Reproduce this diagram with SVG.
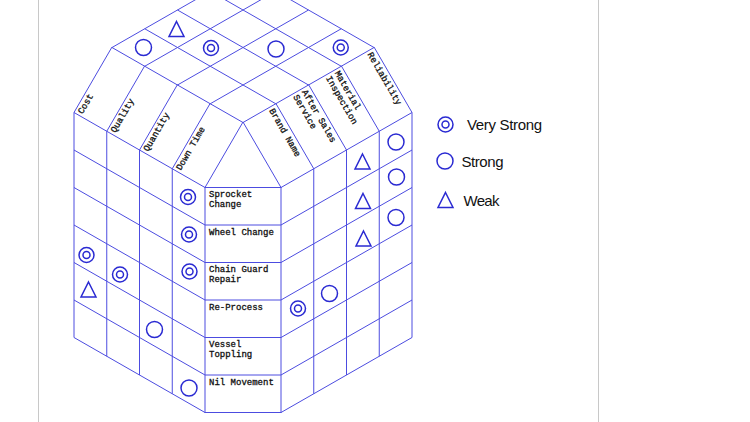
<svg xmlns="http://www.w3.org/2000/svg" xmlns:xlink="http://www.w3.org/1999/xlink" width="750" height="422" viewBox="0 0 750 422">
<style>
.g{fill:none;stroke:#4c4ce0;stroke-width:1}
.s{fill:none;stroke:#2a2ad2;stroke-width:1.5}
.m{font-family:"Liberation Mono","Courier New",monospace;font-size:9px;fill:#111;stroke:#111;stroke-width:0.3}
.l{font-family:"Liberation Sans",Arial,sans-serif;font-size:15px;fill:#111}
.frame{stroke:#c8c8c8;stroke-width:1}
</style>
<defs>
<g id="vs" class="s"><circle r="7.5"/><circle r="3.5"/></g>
<circle id="st" class="s" r="8"/>
<path id="wk" class="s" d="M0,-7.5 L7.5,7.5 L-7.5,7.5 Z"/>
</defs>
<rect x="0" y="0" width="750" height="422" fill="#fff"/>
<line class="frame" x1="38.5" y1="0" x2="38.5" y2="422"/>
<line class="frame" x1="598.5" y1="0" x2="598.5" y2="422"/>

<g id="connectors">
<g id="roof" class="g">
<line x1="243" y1="122.5" x2="374" y2="47.5"/>
<line x1="210.25" y1="103.75" x2="341.25" y2="28.75"/>
<line x1="177.5" y1="85" x2="308.5" y2="10"/>
<line x1="144.75" y1="66.25" x2="275.75" y2="-8.75"/>
<line x1="112" y1="47.5" x2="243" y2="-27.5"/>
<line x1="243" y1="122.5" x2="112" y2="47.5"/>
<line x1="275.75" y1="103.75" x2="144.75" y2="28.75"/>
<line x1="308.5" y1="85" x2="177.5" y2="10"/>
<line x1="341.25" y1="66.25" x2="210.25" y2="-8.75"/>
<line x1="374" y1="47.5" x2="243" y2="-27.5"/>
</g>
<g id="headers" class="g">
<line x1="74" y1="112.5" x2="112" y2="47"/>
<line x1="106.75" y1="131.25" x2="144.75" y2="65.75"/>
<line x1="139.5" y1="150" x2="177.5" y2="84.5"/>
<line x1="172.25" y1="168.75" x2="210.25" y2="103.25"/>
<line x1="205" y1="187.5" x2="243" y2="122"/>
<line x1="281" y1="187.5" x2="243" y2="122"/>
<line x1="313.75" y1="168.75" x2="275.75" y2="103.25"/>
<line x1="346.5" y1="150" x2="308.5" y2="84.5"/>
<line x1="379.25" y1="131.25" x2="341.25" y2="65.75"/>
<line x1="412" y1="112.5" x2="374" y2="47"/>
</g>
<g id="leftface" class="g">
<line x1="74" y1="112.5" x2="205" y2="187.5"/>
<line x1="74" y1="150" x2="205" y2="225"/>
<line x1="74" y1="187.5" x2="205" y2="262.5"/>
<line x1="74" y1="225" x2="205" y2="300"/>
<line x1="74" y1="262.5" x2="205" y2="337.5"/>
<line x1="74" y1="300" x2="205" y2="375"/>
<line x1="74" y1="337.5" x2="205" y2="412.5"/>
<line x1="74" y1="112.5" x2="74" y2="337.5"/>
<line x1="106.75" y1="131.25" x2="106.75" y2="356.25"/>
<line x1="139.5" y1="150" x2="139.5" y2="375"/>
<line x1="172.25" y1="168.75" x2="172.25" y2="393.75"/>
</g>
<g id="centerbox" class="g">
<rect x="205" y="187.5" width="76" height="225"/>
<line x1="205" y1="225" x2="281" y2="225"/>
<line x1="205" y1="262.5" x2="281" y2="262.5"/>
<line x1="205" y1="300" x2="281" y2="300"/>
<line x1="205" y1="337.5" x2="281" y2="337.5"/>
<line x1="205" y1="375" x2="281" y2="375"/>
</g>
<g id="rightface" class="g">
<line x1="281" y1="187.5" x2="412" y2="112.5"/>
<line x1="281" y1="225" x2="412" y2="150"/>
<line x1="281" y1="262.5" x2="412" y2="187.5"/>
<line x1="281" y1="300" x2="412" y2="225"/>
<line x1="281" y1="337.5" x2="412" y2="262.5"/>
<line x1="281" y1="375" x2="412" y2="300"/>
<line x1="281" y1="412.5" x2="412" y2="337.5"/>
<line x1="313.75" y1="168.75" x2="313.75" y2="393.75"/>
<line x1="346.5" y1="150" x2="346.5" y2="375"/>
<line x1="379.25" y1="131.25" x2="379.25" y2="356.25"/>
<line x1="412" y1="112.5" x2="412" y2="337.5"/>
</g>
</g>

<g id="h-cost" transform="translate(74,112.5) rotate(-60)"><text class="m" x="2.5" y="8.5">Cost</text></g>
<g id="h-quality" transform="translate(106.75,131.25) rotate(-60)"><text class="m" x="2.5" y="8.5">Quality</text></g>
<g id="h-quantity" transform="translate(139.5,150) rotate(-60)"><text class="m" x="2.5" y="8.5">Quantity</text></g>
<g id="h-downtime" transform="translate(172.25,168.75) rotate(-60)"><text class="m" x="2.5" y="8.5">Down Time</text></g>
<g id="h-brand" transform="translate(275.75,103.25) rotate(60)"><text class="m" x="3" y="9.5">Brand Name</text></g>
<g id="h-aftersales" transform="translate(308.5,84.5) rotate(60)"><text class="m" x="3" y="9.5">After Sales</text><text class="m" x="3" y="19.5">Service</text></g>
<g id="h-material" transform="translate(341.25,65.75) rotate(60)"><text class="m" x="3" y="9.5">Material</text><text class="m" x="3" y="19.5">Inspection</text></g>
<g id="h-reliability" transform="translate(374,47) rotate(60)"><text class="m" x="3" y="9.5">Reliability</text></g>

<g id="r-sprocket"><text class="m" x="209" y="197">Sprocket</text><text class="m" x="209" y="207">Change</text></g>
<g id="r-wheel"><text class="m" x="209" y="234.5">Wheel Change</text></g>
<g id="r-chain"><text class="m" x="209" y="272">Chain Guard</text><text class="m" x="209" y="282">Repair</text></g>
<g id="r-reprocess"><text class="m" x="209" y="309.5">Re-Process</text></g>
<g id="r-vessel"><text class="m" x="209" y="347">Vessel</text><text class="m" x="209" y="357">Toppling</text></g>
<g id="r-nil"><text class="m" x="209" y="384.5">Nil Movement</text></g>

<g id="symbols">
<use href="#st" x="143.5" y="47.5"/>
<use href="#wk" x="176.5" y="29"/>
<use href="#vs" x="211" y="48"/>
<use href="#st" x="276" y="49"/>
<use href="#vs" x="340.75" y="47.5"/>
<use href="#vs" x="188" y="197"/>
<use href="#vs" x="189" y="234.5"/>
<use href="#vs" x="189.5" y="271.5"/>
<use href="#vs" x="86.5" y="255"/>
<use href="#wk" x="88.5" y="289.5"/>
<use href="#vs" x="120" y="274.5"/>
<use href="#st" x="154.5" y="329.5"/>
<use href="#st" x="189" y="388"/>
<use href="#st" x="396" y="142"/>
<use href="#st" x="396.5" y="177"/>
<use href="#st" x="396" y="217.5"/>
<use href="#wk" x="362.5" y="161.5"/>
<use href="#wk" x="363" y="201"/>
<use href="#wk" x="363.5" y="238.5"/>
<use href="#st" x="329.5" y="293.5"/>
<use href="#vs" x="298" y="308.5"/>
</g>

<g id="legend-verystrong"><use href="#vs" x="445.5" y="124.5"/><text class="l" x="467" y="129.5" textLength="75">Very Strong</text></g>
<g id="legend-strong"><use href="#st" x="445" y="161"/><text class="l" x="461.5" y="166.5" textLength="42">Strong</text></g>
<g id="legend-weak"><use href="#wk" x="445.5" y="200"/><text class="l" x="463.5" y="206" textLength="36">Weak</text></g>
</svg>
